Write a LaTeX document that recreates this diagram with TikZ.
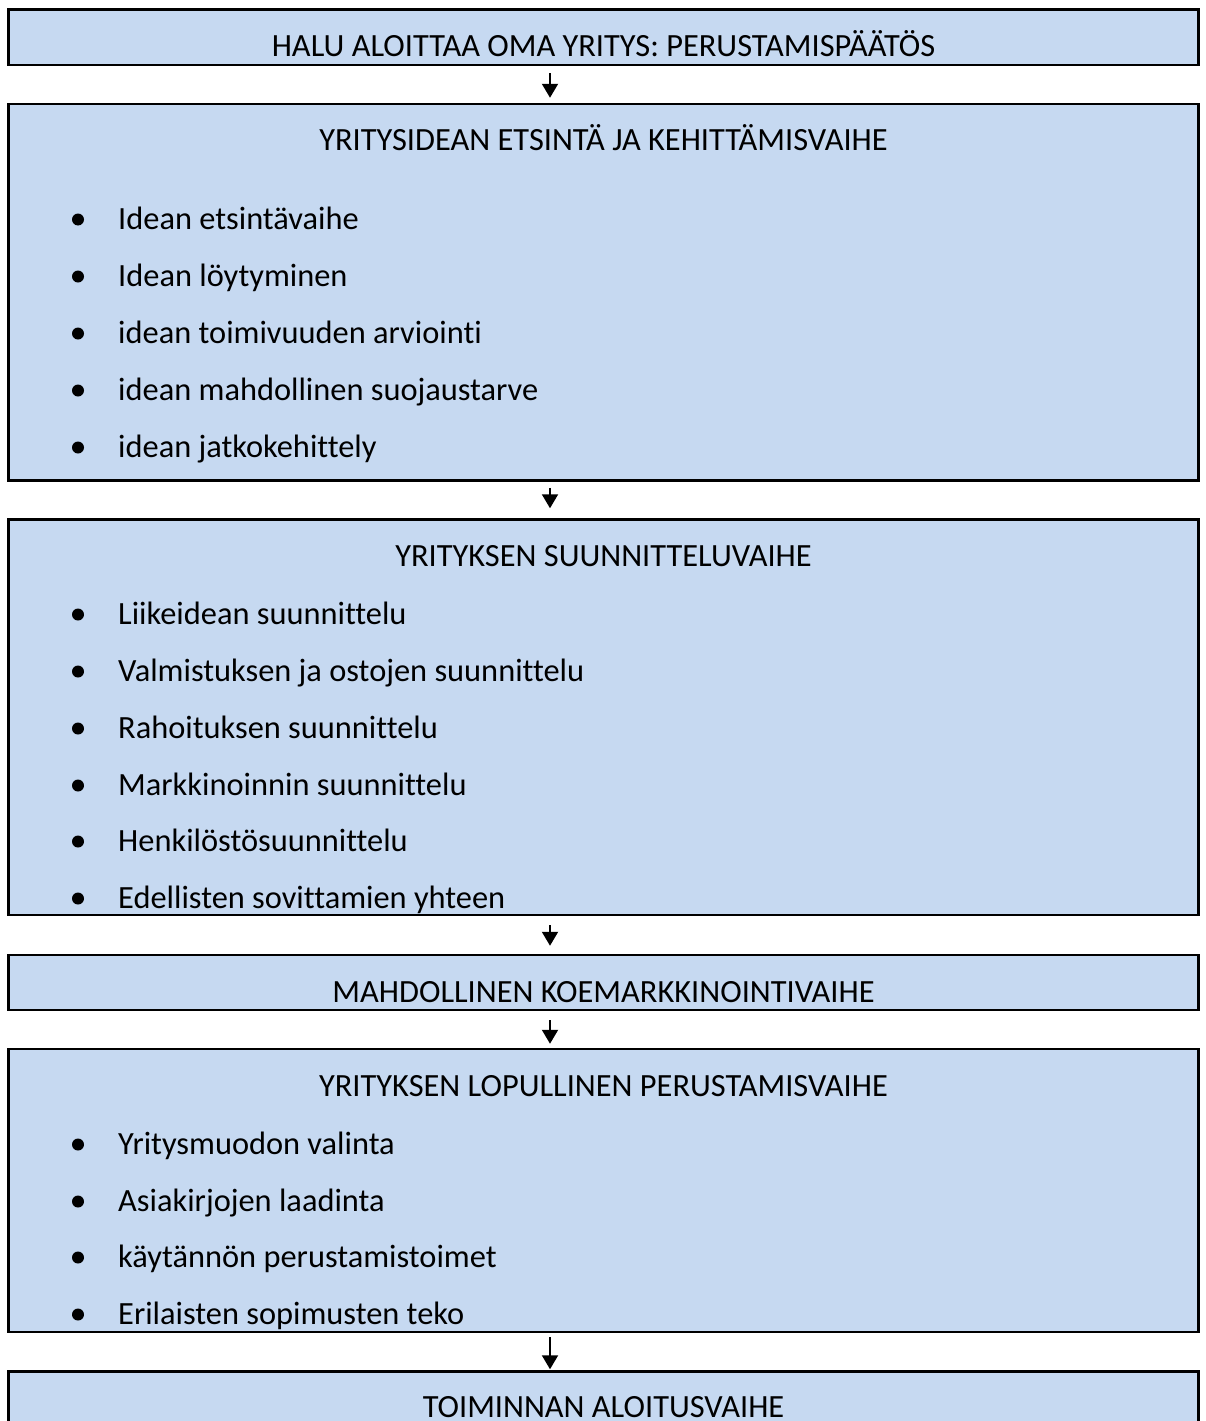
\documentclass[tikz,border=0pt]{standalone}
\usepackage{fontspec}
\setmainfont{Carlito}[Ligatures={NoCommon}]
\usetikzlibrary{arrows.meta}
\definecolor{boxfill}{RGB}{198,217,241}
\tikzset{
  box/.style={draw=black, line width=2.5pt, fill=boxfill, rectangle, minimum width=1190pt, inner sep=0pt},
  ttl/.style={anchor=base, inner sep=0pt, font=\fontsize{32.4}{38}\selectfont},
  itm/.style={anchor=base west, inner sep=0pt, font=\fontsize{32.4}{38}\selectfont},
  dot/.style={circle, fill=black, minimum size=12pt, inner sep=0pt},
  arr/.style={draw=black, line width=2pt, -{Triangle[width=16pt,length=14pt]}}
}
\newcommand{\bitem}[3]{%
  \node[dot] (#1d) at (78,#2-9.5) {};
  \node[itm] (#1) at (118,#2) {#3};}
\begin{document}
\begin{tikzpicture}[x=1pt,y=-1pt]
\useasboundingbox (0,0) rectangle (1206,1421);
\clip (0,0) rectangle (1206,1421);
\fill[white] (0,0) rectangle (1206,1421);
\coordinate (ax) at (550,0);
% boxes
\node[box, minimum height=55.5pt] (b1) at (603.5,37.25) {};
\node[box, minimum height=376.5pt] (b2) at (603.5,292.25) {};
\node[box, minimum height=395.5pt] (b3) at (603.5,717.25) {};
\node[box, minimum height=55pt] (b4) at (603.5,982.5) {};
\node[box, minimum height=283pt] (b5) at (603.5,1190.5) {};
\node[box, minimum height=100pt] (b6) at (603.5,1421.5) {};
% titles
\node[ttl] (t1) at (603.5,56.5) {HALU ALOITTAA OMA YRITYS: PERUSTAMISPÄÄTÖS};
\node[ttl] (t2) at (603.5,150.5) {YRITYSIDEAN ETSINTÄ JA KEHITTÄMISVAIHE};
\node[ttl] (t3) at (603.5,566.5) {YRITYKSEN SUUNNITTELUVAIHE};
\node[ttl] (t4) at (603.5,1002.5) {MAHDOLLINEN KOEMARKKINOINTIVAIHE};
\node[ttl] (t5) at (603.5,1096.5) {YRITYKSEN LOPULLINEN PERUSTAMISVAIHE};
\node[ttl] (t6) at (603.5,1417.5) {TOIMINNAN ALOITUSVAIHE};
% items box 2
\bitem{a1}{229}{Idean etsintävaihe}
\bitem{a2}{286}{Idean löytyminen}
\bitem{a3}{343}{idean toimivuuden arviointi}
\bitem{a4}{400}{idean mahdollinen suojaustarve}
\bitem{a5}{457}{idean jatkokehittely}
% items box 3
\bitem{c1}{624}{Liikeidean suunnittelu}
\bitem{c2}{681}{Valmistuksen ja ostojen suunnittelu}
\bitem{c3}{738}{Rahoituksen suunnittelu}
\bitem{c4}{795}{Markkinoinnin suunnittelu}
\bitem{c5}{851}{Henkilöstösuunnittelu}
\bitem{c6}{908}{Edellisten sovittamien yhteen}
% items box 5
\bitem{e1}{1154}{Yritysmuodon valinta}
\bitem{e2}{1211}{Asiakirjojen laadinta}
\bitem{e3}{1267}{käytännön perustamistoimet}
\bitem{e4}{1324}{Erilaisten sopimusten teko}
% arrows
\draw[arr, shorten <=7pt, shorten >=5pt] (b1.south -| ax) -- (b2.north -| ax);
\draw[arr, shorten <=6pt, shorten >=10pt] (b2.south -| ax) -- (b3.north -| ax);
\draw[arr, shorten <=9pt, shorten >=8pt] (b3.south -| ax) -- (b4.north -| ax);
\draw[arr, shorten <=9pt, shorten >=4pt] (b4.south -| ax) -- (b5.north -| ax);
\draw[arr, shorten <=4pt, shorten >=1pt] (b5.south -| ax) -- (b6.north -| ax);
\end{tikzpicture}
\end{document}
